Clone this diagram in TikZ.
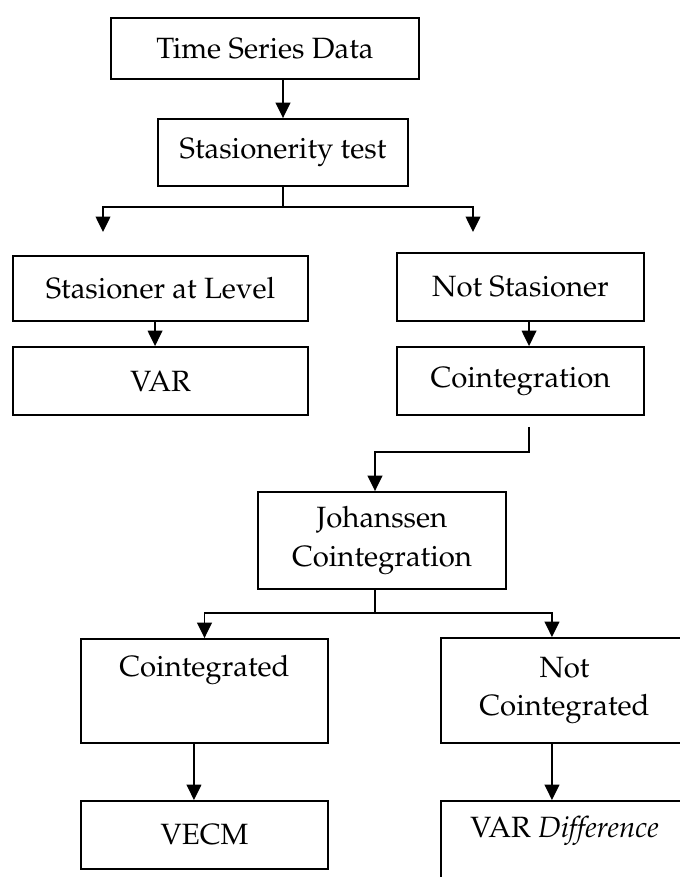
\documentclass[tikz,border=0pt]{standalone}
\usepackage[T1]{fontenc}
\usepackage{mathpazo}
\usetikzlibrary{arrows.meta}

\begin{document}
\begin{tikzpicture}[x=0.75pt,y=-0.75pt,every node/.style={font=\fontsize{22}{29}\selectfont},
  box/.style={draw,line width=1.4pt,inner sep=0pt,align=center,minimum width=185.25pt,minimum height=51pt},
  arr/.style={line width=1.1pt,-{Triangle[length=11.5pt,width=11pt]}}]
\useasboundingbox (0,0) rectangle (680,877);
\node[box,minimum width=231pt,minimum height=45.75pt] (tsd) at (265,48.5) {Time Series Data};
\node[box,minimum width=187.5pt,minimum height=50.25pt] (stest) at (283,152.5) {Stasionerity test};
\node[box,minimum width=221.25pt,minimum height=48.75pt] (lvl) at (160.5,288.5) {Stasioner at Level};
\node[box] (nst) at (520.5,287) {Not Stasioner};
\node[box,minimum width=221.25pt] (var) at (160.5,381) {VAR};
\node[box] (coi) at (520.5,381) {Cointegration};
\node[box,minimum width=186pt,minimum height=72.75pt] (joh) at (382,540.5) {Johanssen\\Cointegration};
\node[box,minimum height=78pt] (cin) at (204.5,691) {Cointegrated\\ \strut};
\node[box,minimum height=78.75pt] (ncin) at (564.5,690.5) {Not\\Cointegrated};
\node[box] (vecm) at (204.5,835) {VECM};
\node[box,minimum height=77.25pt] (vdif) at (564.5,852.5) {VAR \textit{Difference}\\ \strut};
% branch points and free arrow ends
\coordinate (sj) at (283,207);
\coordinate (bl) at (103,232);
\coordinate (br) at (473,232);
\coordinate (jj) at (375,613);
\draw[arr] (tsd.south -| stest.north) -- (stest.north);
\draw[line width=1.1pt] (stest.south) -- (sj);
\draw[arr] (sj) -| (bl);
\draw[arr] (sj) -| (br);
\draw[arr] ([xshift=-4.1pt]lvl.south) -- ([xshift=-4.1pt]var.north);
\draw[arr] ([xshift=6.4pt]nst.south) -- ([xshift=6.4pt]coi.north);
\draw[arr] ([xshift=6.4pt,yshift=-8.25pt]coi.south) -- ++(0,25) -| ([xshift=-5.25pt]joh.north);
\draw[line width=1.1pt] ([xshift=-5.25pt]joh.south) -- (jj);
\draw[arr] (jj) -| (cin.north);
\draw[arr] (jj) -| ([xshift=-9.4pt]ncin.north);
\draw[arr] ([xshift=-7.9pt]cin.south) -- ([xshift=-7.9pt]vecm.north);
\draw[arr] ([xshift=-9.4pt]ncin.south) -- ([xshift=-9.4pt]vdif.north);
\end{tikzpicture}
\end{document}
